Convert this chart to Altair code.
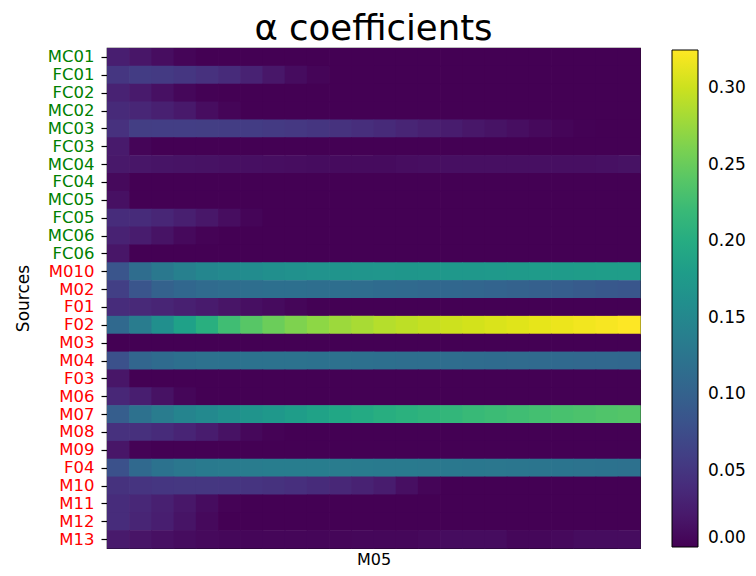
import altair as alt
import pandas as pd

sources = ["MC01", "FC01", "FC02", "MC02", "MC03", "FC03", "MC04", "FC04",
           "MC05", "FC05", "MC06", "FC06", "M010", "M02", "F01", "F02",
           "M03", "M04", "F03", "M06", "M07", "M08", "M09", "F04",
           "M10", "M11", "M12", "M13"]
n_green = 12  # first 12 sources are drawn in green, the rest in red

n_cols = 24
z = [0.0]

MC01 = [0.026, 0.018, 0.01, 0.003] + z * 20
FC01 = [0.05, 0.056, 0.054, 0.05, 0.045, 0.039, 0.03, 0.019, 0.009, 0.003] + z * 14
FC02 = [0.03, 0.022, 0.013, 0.005, 0.001] + z * 19
MC02 = [0.038, 0.034, 0.028, 0.021, 0.01, 0.003] + z * 18
MC03 = [0.045, 0.058, 0.059, 0.059, 0.058, 0.057, 0.056, 0.054, 0.052, 0.049, 0.046, 0.042,
        0.038, 0.033, 0.028, 0.024, 0.019, 0.015, 0.011, 0.007, 0.003, 0.001, 0.0, 0.0]
FC03 = [0.022, 0.003] + z * 22
MC04 = [0.02, 0.018, 0.016, 0.015, 0.014, 0.013, 0.012, 0.011, 0.01, 0.009, 0.008, 0.008,
        0.008, 0.01, 0.011, 0.012, 0.012, 0.012, 0.012, 0.012, 0.012, 0.012, 0.013, 0.014]
FC04 = [0.007] + z * 23
MC05 = [0.013] + z * 23
FC05 = [0.04, 0.039, 0.034, 0.027, 0.019, 0.01, 0.003] + z * 17
MC06 = [0.03, 0.024, 0.015, 0.007, 0.002] + z * 19
FC06 = [0.018] + z * 23
M010 = [0.085, 0.115, 0.13, 0.14, 0.148, 0.153, 0.157, 0.16, 0.163, 0.165, 0.167, 0.168,
        0.17, 0.171, 0.172, 0.173, 0.174, 0.175, 0.176, 0.177, 0.178, 0.179, 0.18, 0.18]
M02 = [0.06, 0.085, 0.1, 0.107, 0.112, 0.115, 0.117, 0.118, 0.118, 0.117, 0.116, 0.115,
       0.113, 0.111, 0.109, 0.107, 0.105, 0.103, 0.1, 0.098, 0.095, 0.092, 0.089, 0.086]
F01 = [0.04, 0.037, 0.033, 0.028, 0.023, 0.017, 0.012, 0.008, 0.004, 0.001] + z * 14
F02 = [0.11, 0.135, 0.16, 0.185, 0.205, 0.225, 0.24, 0.252, 0.262, 0.27, 0.277, 0.283,
       0.289, 0.293, 0.297, 0.301, 0.304, 0.307, 0.31, 0.313, 0.316, 0.319, 0.322, 0.325]
M03 = z * 24
M04 = [0.08, 0.105, 0.113, 0.118, 0.12, 0.121, 0.122, 0.122, 0.122, 0.121, 0.12, 0.119,
       0.118, 0.117, 0.116, 0.115, 0.114, 0.113, 0.112, 0.111, 0.11, 0.109, 0.108, 0.107]
F03 = [0.018] + z * 23
M06 = [0.035, 0.026, 0.014, 0.004] + z * 20
M07 = [0.095, 0.12, 0.135, 0.145, 0.153, 0.16, 0.167, 0.173, 0.18, 0.187, 0.193, 0.198,
       0.203, 0.207, 0.211, 0.215, 0.219, 0.222, 0.225, 0.228, 0.231, 0.233, 0.236, 0.238]
M08 = [0.045, 0.044, 0.039, 0.032, 0.024, 0.014, 0.006, 0.002] + z * 16
M09 = [0.018, 0.002] + z * 22
F04 = [0.08, 0.11, 0.122, 0.128, 0.132, 0.134, 0.135, 0.136, 0.136, 0.136, 0.135, 0.134,
       0.133, 0.132, 0.131, 0.13, 0.129, 0.128, 0.127, 0.126, 0.125, 0.123, 0.122, 0.12]
M10 = [0.046, 0.048, 0.05, 0.051, 0.051, 0.05, 0.048, 0.046, 0.043, 0.039, 0.035, 0.03,
       0.024, 0.012, 0.003] + z * 9
M11 = [0.04, 0.035, 0.028, 0.019, 0.009, 0.002] + z * 18
M12 = [0.04, 0.033, 0.026, 0.016, 0.007] + z * 19
M13 = [0.022, 0.017, 0.013, 0.009, 0.007, 0.005, 0.004, 0.004, 0.004, 0.004, 0.004, 0.005,
       0.005, 0.005, 0.007, 0.009, 0.009, 0.009, 0.005, 0.005, 0.007, 0.009, 0.009, 0.009]

rows = [MC01, FC01, FC02, MC02, MC03, FC03, MC04, FC04, MC05, FC05, MC06, FC06,
        M010, M02, F01, F02, M03, M04, F03, M06, M07, M08, M09, F04, M10, M11, M12, M13]

colorbar_ticks = [0.0, 0.05, 0.10, 0.15, 0.20, 0.25, 0.30]
x_label = "M05"

records = []
for i, (name, vals) in enumerate(zip(sources, rows)):
    for j, v in enumerate(vals):
        records.append({"source": name, "row": i, "row2": i + 1,
                        "col": j, "col2": j + 1, "alpha": v})
df = pd.DataFrame(records)

font = "DejaVu Sans"
n_rows = len(sources)
names_js = "[" + ",".join(f"'{s}'" for s in sources) + "]"

chart = alt.Chart(df).mark_rect(x2Offset=0.7, y2Offset=0.7).encode(
    x=alt.X("col:Q",
            scale=alt.Scale(domain=[0, n_cols], nice=False, zero=False),
            axis=alt.Axis(values=[n_cols / 2], labelExpr=f"'{x_label}'", ticks=False,
                          grid=False, domain=False, title=None, labelFontSize=16,
                          labelColor="black", labelPadding=3, labelFont=font)),
    x2="col2:Q",
    y=alt.Y("row:Q",
            scale=alt.Scale(domain=[0, n_rows], nice=False, zero=False, reverse=True),
            axis=alt.Axis(title="Sources", titleFontSize=17, titleFont=font,
                          titleFontWeight="normal", titleColor="black", titlePadding=15,
                          values=[i + 0.5 for i in range(n_rows)],
                          labelExpr=f"{names_js}[floor(datum.value)]",
                          labelFontSize=16.5, labelFont=font, grid=False,
                          labelColor=alt.condition(f"datum.value < {n_green}",
                                                   alt.value("#008000"), alt.value("#ff0000")),
                          tickSize=6, tickColor="black", tickWidth=1.2, domain=False,
                          labelPadding=7)),
    y2="row2:Q",
    color=alt.Color("alpha:Q",
                    scale=alt.Scale(scheme="viridis", domain=[0, 0.325]),
                    legend=alt.Legend(orient="none", legendX=565, legendY=2,
                                      direction="vertical", gradientLength=497,
                                      gradientThickness=26, gradientStrokeColor="black",
                                      gradientStrokeWidth=1, values=colorbar_ticks,
                                      format=".2f", title=None, labelFontSize=17,
                                      labelBaseline="middle",
                                      labelFont=font, labelColor="black", labelOffset=10)),
).properties(
    width=533,
    height=500,
    title=alt.TitleParams("α coefficients", fontSize=35.5, font=font,
                          fontWeight="normal", color="black", anchor="middle", offset=1),
    autosize=alt.AutoSizeParams(type="none"),
    padding={"left": 99, "top": 40, "right": 108, "bottom": 20},
).configure_view(
    stroke="black", strokeWidth=1.2
)

chart.save("out.html", embed_options={"renderer": "svg", "actions": False})
